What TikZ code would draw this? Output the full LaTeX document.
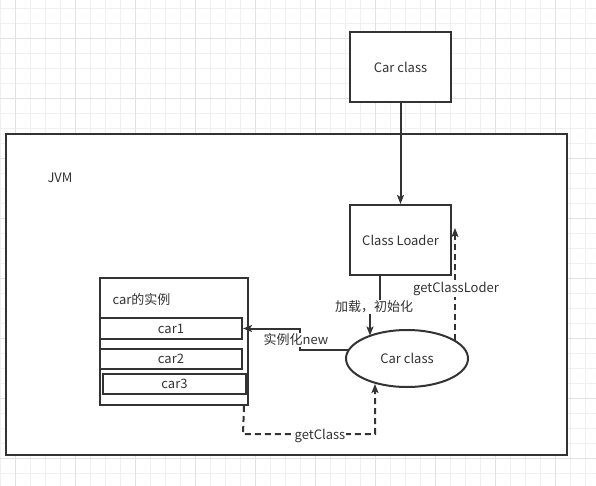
\documentclass[tikz,border=0pt]{standalone}
\usepackage{fontspec}
\setmainfont{Noto Sans CJK SC}
\usetikzlibrary{arrows.meta,shapes.geometric}
\definecolor{ink}{HTML}{333333}
\definecolor{gridminor}{HTML}{F0F0F0}
\definecolor{gridmajor}{HTML}{E2E2E2}
\tikzset{
  box/.style={draw=ink, line width=2pt, fill=white, inner sep=0pt, text=ink, font=\fontsize{13}{15}\selectfont},
  conn/.style={draw=ink, line width=2pt},
  tip/.style={-{Stealth[length=9pt,width=7pt,inset=2pt]}},
  dsh/.style={dash pattern=on 6pt off 4pt},
  lbl/.style={fill=white, inner sep=1pt, text=ink, font=\fontsize{13}{15}\selectfont},
}
\begin{document}
\begin{tikzpicture}[x=1pt,y=-1pt]
\useasboundingbox (0,0) rectangle (596,486);
% grid
\foreach \i in {0,...,39} {\draw[gridminor, line width=1pt] (15*\i,0) -- (15*\i,486);}
\foreach \i in {0,...,32} {\draw[gridminor, line width=1pt] (0,8.3+15*\i) -- (596,8.3+15*\i);}
\foreach \i in {0,...,9} {\draw[gridmajor, line width=1pt] (15+60*\i,0) -- (15+60*\i,486);}
\foreach \i in {0,...,7} {\draw[gridmajor, line width=1pt] (0,38.3+60*\i) -- (596,38.3+60*\i);}
% JVM frame
\draw[box] (6,134) rectangle (567,455);
\node[text=ink, font=\fontsize{13}{15}\selectfont] (jvm) at (60,178) {JVM};
% boxes
\node[box, minimum width=101pt, minimum height=70pt] (cartop) at (400.5,67) {Car class};
\node[box, minimum width=101pt, minimum height=70pt] (loader) at (400.5,240) {Class Loader};
\node[box, ellipse, minimum width=122pt, minimum height=57pt] (ell) at (407,358.5) {Car class};
\node[box, minimum width=148pt, minimum height=127pt] (inst) at (174,341.5) {};
\node[text=ink, font=\fontsize{13}{15}\selectfont, anchor=west] (insttitle) at (109,300) {car的实例};
\node[box, minimum width=142pt, minimum height=21pt] (car1) at (171,328.5) {car1};
\node[box, minimum width=142pt, minimum height=20pt] (car2) at (171,359) {car2};
\node[box, minimum width=143pt, minimum height=20pt] (car3) at (174.5,384) {car3};
% connectors
\draw[conn, tip] (cartop.south) -- (loader.north);
\coordinate (e1) at (370,335.5);
\draw[conn, tip] ([xshift=-20.5pt]loader.south) -- (380,307) -- (370,307) -- (e1);
\node[lbl] (l1) at (374,307) {加载，初始化};
\coordinate (e2) at (349,350);
\draw[conn, tip] (e2) -- (300,350) -- (300,328.5) -- (car1.east);
\node[lbl] (l2) at (296,340) {实例化new};
\coordinate (e3) at (455,340);
\coordinate (t3) at (455,228);
\draw[conn, dsh, tip] (e3) -- (t3);
\node[lbl] (l3) at (456,289) {getClassLoder};
\coordinate (e4) at (375,384);
\draw[conn, dsh, tip] ([xshift=-5pt]inst.south east) -- (243,434) -- (375,434) -- (e4);
\node[lbl] (l4) at (320,436) {getClass};
\end{tikzpicture}
\end{document}
